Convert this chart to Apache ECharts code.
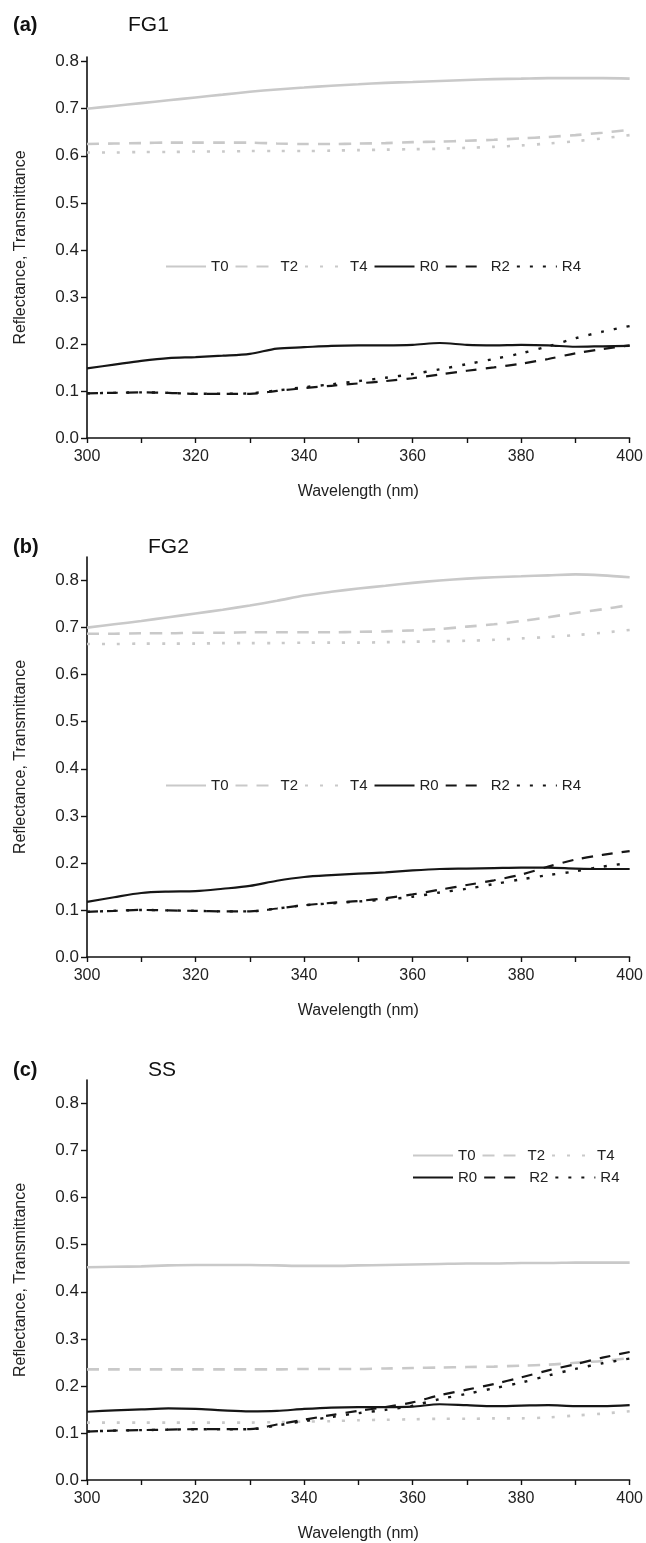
<!DOCTYPE html>
<html>
<head>
<meta charset="utf-8">
<script src="https://cdn.jsdelivr.net/npm/echarts@6/dist/echarts.min.js"></script>
<style>
html,body{margin:0;padding:0;background:#fff;}
#c{width:646px;height:1543px;}
</style>
</head>
<body>
<div id="c"></div>
<script>
// Wavelength (nm)
const wavelengths = [300,305,310,315,320,325,330,335,340,345,350,355,360,365,370,375,380,385,390,395,400];
const xTicks = [300,310,320,330,340,350,360,370,380,390,400];
const xLabels = [300,320,340,360,380,400];
const yLabels = [0,0.1,0.2,0.3,0.4,0.5,0.6,0.7,0.8];
const seriesNames = ['T0','T2','T4','R0','R2','R4'];
const panelLetters = ['(a)','(b)','(c)'];
const panelNames = ['FG1','FG2','SS'];

// (a) FG1
const fg1T0 = [.700,.706,.712,.718,.724,.730,.736,.741,.745,.749,.752,.755,.757,.759,.761,.763,.764,.765,.765,.765,.764];
const fg1T2 = [.625,.626,.627,.628,.628,.628,.628,.626,.625,.625,.626,.627,.629,.630,.632,.634,.637,.640,.644,.649,.655];
const fg1T4 = [.607,.607,.608,.608,.609,.609,.610,.610,.610,.611,.612,.613,.614,.615,.617,.619,.622,.626,.631,.637,.644];
const fg1R0 = [.148,.156,.164,.170,.172,.175,.179,.190,.193,.196,.197,.197,.198,.202,.198,.197,.198,.197,.194,.195,.196];
const fg1R2 = [.095,.096,.097,.096,.094,.094,.094,.100,.106,.111,.116,.121,.127,.135,.143,.150,.158,.168,.180,.189,.197];
const fg1R4 = [.095,.096,.097,.096,.094,.094,.095,.101,.108,.114,.121,.128,.136,.146,.157,.168,.180,.195,.212,.226,.238];

// (b) FG2
const fg2T0 = [.700,.707,.714,.722,.730,.738,.747,.757,.768,.776,.783,.789,.795,.800,.804,.807,.809,.811,.813,.811,.807];
const fg2T2 = [.687,.687,.688,.688,.689,.689,.690,.690,.690,.690,.691,.692,.694,.697,.702,.707,.714,.722,.731,.739,.748];
const fg2T4 = [.665,.665,.666,.666,.666,.667,.667,.667,.668,.668,.668,.669,.670,.671,.672,.674,.677,.680,.684,.689,.695];
const fg2R0 = [.117,.127,.136,.139,.140,.145,.151,.162,.170,.174,.177,.180,.184,.187,.188,.189,.190,.190,.188,.187,.187];
const fg2R2 = [.096,.098,.100,.099,.098,.097,.097,.103,.110,.115,.119,.125,.133,.143,.153,.163,.175,.192,.207,.217,.225];
const fg2R4 = [.096,.098,.100,.099,.098,.097,.097,.103,.110,.114,.118,.122,.128,.137,.145,.155,.165,.174,.182,.192,.200];

// (c) SS
const ssT0 = [.452,.453,.454,.456,.457,.457,.457,.456,.455,.455,.456,.457,.458,.459,.460,.460,.461,.461,.462,.462,.462];
const ssT2 = [.235,.235,.235,.235,.235,.235,.235,.235,.236,.236,.236,.237,.238,.239,.240,.241,.243,.245,.249,.253,.259];
const ssT4 = [.122,.122,.122,.122,.122,.122,.122,.123,.124,.125,.127,.128,.129,.130,.130,.131,.131,.133,.137,.141,.146];
const ssR0 = [.145,.148,.150,.152,.151,.148,.146,.147,.151,.154,.155,.155,.156,.161,.159,.157,.158,.159,.157,.157,.159];
const ssR2 = [.103,.105,.106,.107,.108,.108,.108,.118,.128,.138,.147,.155,.165,.180,.192,.204,.218,.233,.246,.260,.272];
const ssR4 = [.103,.105,.106,.107,.108,.108,.108,.116,.125,.134,.142,.149,.158,.172,.183,.195,.207,.222,.236,.248,.258];

const panelData = [
  [fg1T0,fg1T2,fg1T4,fg1R0,fg1R2,fg1R4],
  [fg2T0,fg2T2,fg2T4,fg2R0,fg2R2,fg2R4],
  [ssT0,ssT2,ssT4,ssR0,ssR2,ssR4]
];
const yMax = [0.81,0.85,0.85];

const FONT = 'Liberation Sans Narrow, Liberation Sans, Arial, sans-serif';
const grey = '#c9c9c9', black = '#161616';
const styles = {
  T0:{color:grey,width:2.6,type:'solid'},
  T2:{color:grey,width:2.6,type:[12,9]},
  T4:{color:grey,width:2.6,type:[3,12]},
  R0:{color:black,width:2.2,type:'solid'},
  R2:{color:black,width:2.2,type:[11,9]},
  R4:{color:black,width:2.4,type:[3,10]}
};

const grids = [
  {left:87,width:544,top:57,height:381},
  {left:87,width:544,top:557,height:400},
  {left:87,width:544,top:1080,height:400}
];

const xAxes = [], yAxes = [], series = [], titles = [];
grids.forEach((g,i)=>{
  xAxes.push({
    type:'value', gridIndex:i, min:300, max:400, interval:20,
    name:'Wavelength (nm)', nameLocation:'middle', nameGap:46,
    nameTextStyle:{fontFamily:FONT,fontSize:16,color:'#222'},
    axisLine:{lineStyle:{color:'#111',width:1.6}},
    axisTick:{show:true,length:5,lineStyle:{color:'#111',width:1.4},customValues:xTicks},
    axisLabel:{fontFamily:FONT,fontSize:16,color:'#222',margin:11,customValues:xLabels},
    splitLine:{show:false}
  });
  yAxes.push({
    type:'value', gridIndex:i, min:0, max:yMax[i], interval:0.1,
    name:'Reflectance, Transmittance', nameLocation:'middle', nameGap:58,
    nameTextStyle:{fontFamily:FONT,fontSize:16,color:'#222'},
    axisLine:{show:true,lineStyle:{color:'#111',width:1.6}},
    axisTick:{show:true,length:6,lineStyle:{color:'#111',width:1.4},customValues:yLabels},
    axisLabel:{fontFamily:FONT,fontSize:17,color:'#222',margin:8,customValues:yLabels,
      formatter:v=>v.toFixed(1)},
    splitLine:{show:false}
  });
  seriesNames.forEach((n,k)=>{
    const st = styles[n];
    series.push({
      name:n, type:'line', xAxisIndex:i, yAxisIndex:i,
      data: wavelengths.map((w,j)=>[w,panelData[i][k][j]]),
      showSymbol:false, symbol:'none', smooth:0.3,
      z: n[0]==='R'?3:2,
      lineStyle:{color:st.color,width:st.width,type:st.type},
      itemStyle:{color:st.color},
      emphasis:{disabled:true}
    });
  });
  const topY = [10,532,1055][i];
  titles.push({text:panelLetters[i],left:8,top:topY,
    textStyle:{fontFamily:'Liberation Sans, Arial, sans-serif',fontSize:20,fontWeight:'bold',color:'#111'}});
  titles.push({text:panelNames[i],left:[123,143,143][i],top:topY,
    textStyle:{fontFamily:'Liberation Sans, Arial, sans-serif',fontSize:21,fontWeight:'normal',color:'#111'}});
});

const legendBase = {
  selectedMode:false, orient:'horizontal', itemWidth:40, itemHeight:12, itemGap:6,
  itemStyle:{opacity:0,borderWidth:0},
  textStyle:{fontFamily:FONT,fontSize:15,color:'#222'}
};
const legends = [
  Object.assign({},legendBase,{data:seriesNames,left:160,top:254}),
  Object.assign({},legendBase,{data:seriesNames,left:160,top:773}),
  Object.assign({},legendBase,{data:['T0','T2','T4'],left:407,top:1143}),
  Object.assign({},legendBase,{data:['R0','R2','R4'],left:407,top:1165})
];

const chart = echarts.init(document.getElementById('c'),null,{renderer:'canvas'});
chart.setOption({
  backgroundColor:'#ffffff',
  animation:false,
  title:titles,
  legend:legends,
  grid:grids,
  xAxis:xAxes,
  yAxis:yAxes,
  series:series
});
</script>
</body>
</html>
